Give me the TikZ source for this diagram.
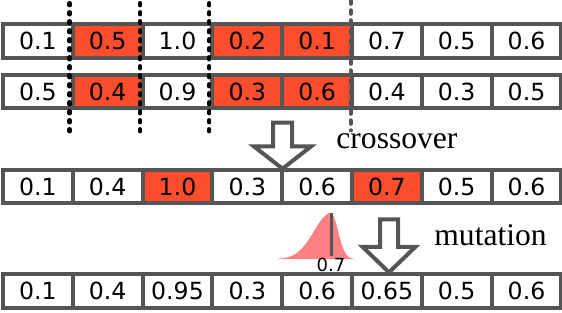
\documentclass[tikz,border=0pt]{standalone}
\usepackage{fontspec}
\setmainfont{Liberation Serif}
\setsansfont{DejaVu Sans}
\usepackage{xcolor}
\usepackage{tikz}
\usetikzlibrary{positioning,shapes.arrows,calc}
\definecolor{genered}{RGB}{252,77,45}
\definecolor{edgegray}{RGB}{85,85,85}
\definecolor{pdfpink}{RGB}{255,128,128}

\begin{document}
\begin{tikzpicture}[
  x=0.5pt, y=0.5pt,
  font=\sffamily\fontsize{11.8}{13}\selectfont,
  cell/.style={draw=edgegray, line width=2pt, minimum width=34.9pt, minimum height=16.75pt, inner sep=0pt, outer sep=0pt},
  hit/.style={cell, fill=genered},
  cut/.style={line width=2.2pt, line cap=round, dash pattern=on 1pt off 3.5pt},
  cutgray/.style={draw=edgegray, line width=2pt, line cap=round, dash pattern=on 1.8pt off 3.2pt},
  blockarr/.style={single arrow, draw=edgegray, fill=white, line width=2pt, shape border rotate=270, minimum width=0pt},
  lbl/.style={font=\rmfamily\fontsize{15.8}{18}\selectfont, inner sep=0pt}
]
\useasboundingbox (0,0) rectangle (562,312);

% parent 1
\node[cell] (pa1) at (37.9,271) {0.1};
\node[hit, right=0pt of pa1] (pa2) {0.5};
\node[cell, right=0pt of pa2] (pa3) {1.0};
\node[hit, right=0pt of pa3] (pa4) {0.2};
\node[hit, right=0pt of pa4] (pa5) {0.1};
\node[cell, right=0pt of pa5] (pa6) {0.7};
\node[cell, right=0pt of pa6] (pa7) {0.5};
\node[cell, right=0pt of pa7] (pa8) {0.6};

% parent 2
\node[cell, below=8.6pt of pa1] (pb1) {0.5};
\node[hit, right=0pt of pb1] (pb2) {0.4};
\node[cell, right=0pt of pb2] (pb3) {0.9};
\node[hit, right=0pt of pb3] (pb4) {0.3};
\node[hit, right=0pt of pb4] (pb5) {0.6};
\node[cell, right=0pt of pb5] (pb6) {0.4};
\node[cell, right=0pt of pb6] (pb7) {0.3};
\node[cell, right=0pt of pb7] (pb8) {0.5};

% child
\node[cell, below=30.65pt of pb1] (ch1) {0.1};
\node[cell, right=0pt of ch1] (ch2) {0.4};
\node[hit, right=0pt of ch2] (ch3) {1.0};
\node[cell, right=0pt of ch3] (ch4) {0.3};
\node[cell, right=0pt of ch4] (ch5) {0.6};
\node[hit, right=0pt of ch5] (ch6) {0.7};
\node[cell, right=0pt of ch6] (ch7) {0.5};
\node[cell, right=0pt of ch7] (ch8) {0.6};

% mutated child
\node[cell, below=35.5pt of ch1] (mt1) {0.1};
\node[cell, right=0pt of mt1] (mt2) {0.4};
\node[cell, right=0pt of mt2] (mt3) {0.95};
\node[cell, right=0pt of mt3] (mt4) {0.3};
\node[cell, right=0pt of mt4] (mt5) {0.6};
\node[cell, right=0pt of mt5] (mt6) {0.65};
\node[cell, right=0pt of mt6] (mt7) {0.5};
\node[cell, right=0pt of mt7] (mt8) {0.6};

% cut points
\draw[cut] ([xshift=-1.6pt, yshift=10.5pt]pa1.north east) -- ([xshift=-1.6pt, yshift=-11.5pt]pb1.south east);
\draw[cut] ([xshift=-1.2pt, yshift=10.5pt]pa2.north east) -- ([xshift=-1.2pt, yshift=-11.5pt]pb2.south east);
\draw[cut] ([xshift=-1.6pt, yshift=10.5pt]pa3.north east) -- ([xshift=-1.6pt, yshift=-11.5pt]pb3.south east);
\draw[cutgray] ([xshift=-0.75pt, yshift=12pt]pa5.north east) -- ([xshift=-0.75pt, yshift=-11pt]pb5.south east);

\node[blockarr, minimum height=23pt, inner sep=3.75pt, single arrow head extend=9.5pt, single arrow tip angle=104] (xarr) at (282.5,170) {};
\node[lbl, anchor=base west] (xlbl) at (336,164) {crossover};

% mutation noise
\fill[pdfpink] plot[domain=278:331, samples=40] (\x,{53+46*exp(-(((\x-331)/24)^2))})
  -- plot[domain=331:355, samples=25] (\x,{53+46*exp(-(((\x-331)/10)^2))}) -- (355,53) -- (278,53) -- cycle;
\coordinate (peak) at (331,99);
\node[font=\sffamily\fontsize{9}{10}\selectfont, inner sep=1pt] (mean) at (331,47) {0.7};
\draw[edgegray, line width=1.5pt] (peak) -- (mean.north);

\node[blockarr, minimum height=26.5pt, inner sep=3.5pt, single arrow head extend=8.75pt, single arrow tip angle=92] (marr) at (389,70.5) {};
\node[lbl, anchor=base west] (mlbl) at (434,67) {mutation};
\end{tikzpicture}
\end{document}
